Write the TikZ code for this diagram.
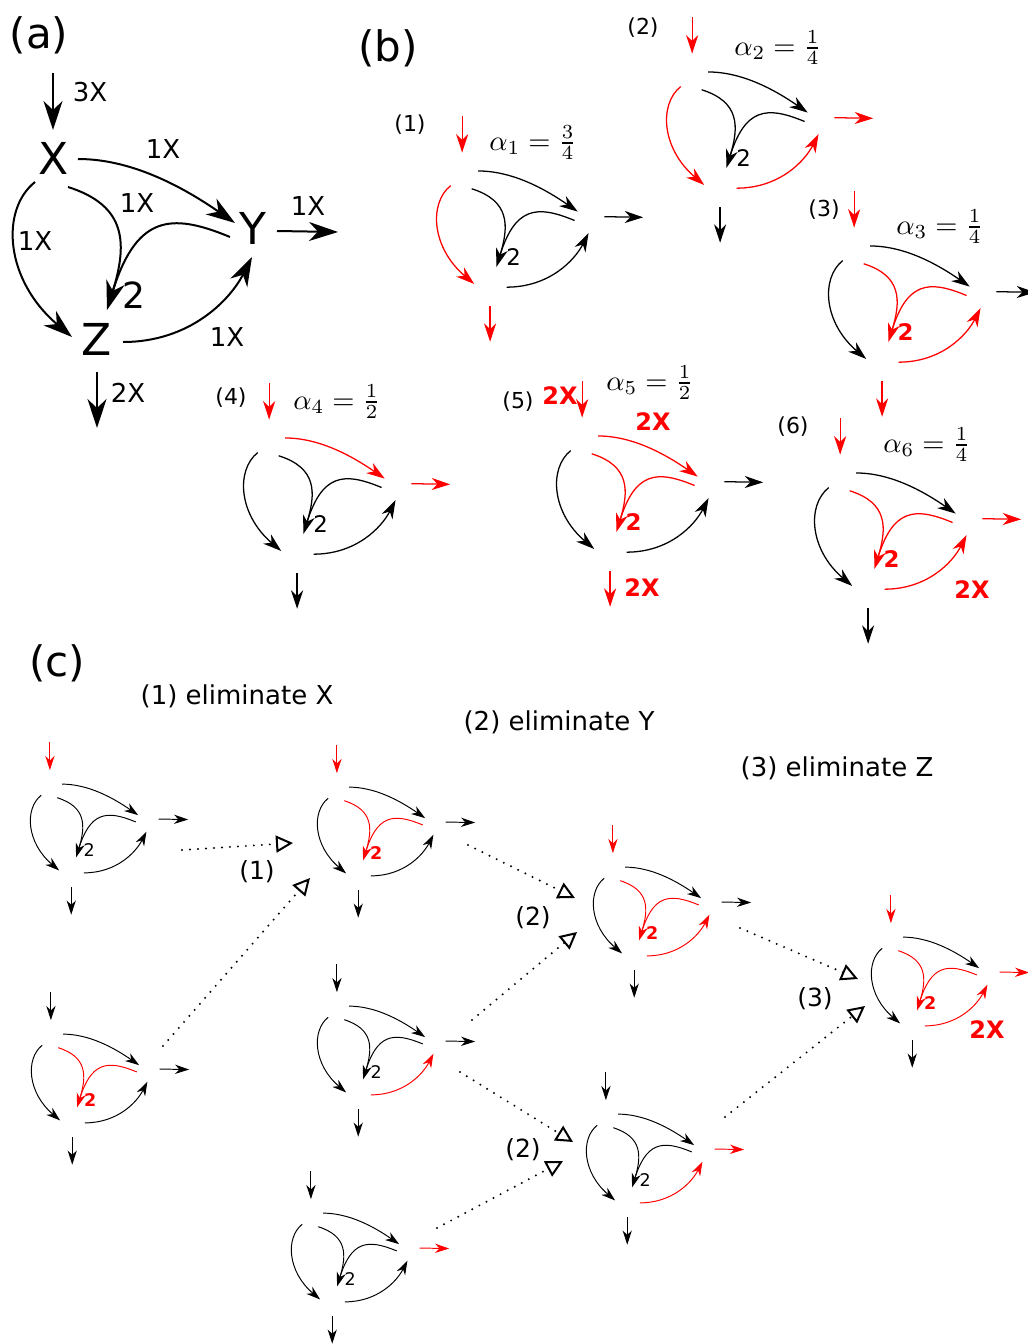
\documentclass[tikz,border=0pt]{standalone}
\usepackage{graphicx}
\usepackage[no-math]{fontspec}
\setmainfont{DejaVu Sans}
\usetikzlibrary{arrows.meta}
\tikzset{
 rin/.code={\def\cin{red}}, rxy/.code={\def\cxy{red}}, rxz/.code={\def\cxz{red}},
 rmg/.code={\def\cmg{red}\def\tw{\bfseries}}, rzy/.code={\def\czy{red}},
 ryo/.code={\def\cyo{red}}, rzo/.code={\def\czo{red}},
 panel/.style={inner sep=0pt,font=\fontsize{42}{42}\selectfont},
 letter/.style={inner sep=0pt,font=\fontsize{44}{44}\selectfont},
 flow/.style={inner sep=0pt,font=\fontsize{26}{26}\selectfont},
 sub/.style={inner sep=0pt,font=\fontsize{22}{22}\selectfont},
 alph/.style={inner sep=0pt},
 redlab/.style={inner sep=0pt,text=red,font=\fontsize{24}{24}\selectfont\bfseries},
 steplab/.style={inner sep=0pt,font=\fontsize{25}{25}\selectfont},
 title/.style={inner sep=0pt,font=\fontsize{26}{26}\selectfont},
 dotarrow/.style={line width=2.2pt, line cap=round, dash pattern=on 0pt off 8pt,
   -{Triangle[open,length=17pt,width=17pt,line width=2pt]}},
}
\newcommand\amath[1]{\scalebox{2.85}{$#1$}}
\newcommand\motif[4][]{%
\begin{scope}[shift={(#2,#3)},scale=#4]
\def\cin{black}\def\cxy{black}\def\cxz{black}\def\cmg{black}%
\def\czy{black}\def\cyo{black}\def\czo{black}\def\tw{\mdseries}%
\tikzset{#1}%
\pgfmathsetmacro\lw{2*#4}\pgfmathsetmacro\al{29*#4}%
\pgfmathsetmacro\aw{19*#4}\pgfmathsetmacro\ai{9*#4}\pgfmathsetmacro\tf{36*#4}%
\tikzset{arr/.style={line width=\lw pt,-{Stealth[length=\al pt,width=\aw pt,inset=\ai pt]}},
  ln/.style={line width=\lw pt}}%
\draw[arr,color=\cin] (53,73) -- (53,130);
\draw[arr,color=\cxy] (78,159) .. controls (130,159) and (180,185) .. (235,223);
\draw[arr,color=\cxz] (35,182) .. controls (0,210) and (5,280) .. (72,337);
\draw[ln,color=\cmg] (230,237) .. controls (170,212) and (135,215) .. (111,297);
\draw[arr,color=\cmg] (68,187) .. controls (128,206) and (127,245) .. (107,310);
\draw[arr,color=\czy] (123,342) .. controls (190,342) and (230,300) .. (252,257);
\draw[arr,color=\cyo] (277,231) -- (338,232);
\draw[arr,color=\czo] (97,372) -- (97,428);
\node[inner sep=0pt,text=\cmg,font=\fontsize{\tf}{\tf}\selectfont\tw] at (134,295) {2};
\end{scope}}
\begin{document}
\begin{tikzpicture}[x=1pt,y=-1pt]
\useasboundingbox (0,0) rectangle (1028,1344);
% ---------- (a)
\node[panel] (pa) at (39,35) {(a)};
\motif{0}{0}{1}
\node[letter] (X) at (54,158) {X};
\node[letter] (Y) at (253,228) {Y};
\node[letter] (Z) at (97,339) {Z};
\node[flow] (a3x) at (90,92) {3X};
\node[flow] (axy) at (163,149) {1X};
\node[flow] (axz) at (35,241) {1X};
\node[flow] (amg) at (137,203) {1X};
\node[flow] (ayo) at (308,206) {1X};
\node[flow] (azy) at (227,337) {1X};
\node[flow] (azo) at (128,393) {2X};
% ---------- (b)
\node[panel] (pb) at (388,48) {(b)};
\motif[rin,rxz,rzo]{428.5}{70}{0.635}
\motif[rin,rxz,rzy,ryo]{658.5}{-29}{0.635}
\motif[rin,rmg,rzy,rzo]{820.5}{145}{0.635}
\motif[rin,rxy,ryo]{235.5}{337}{0.635}
\motif[rin,rxy,rmg,rzo]{548.5}{335}{0.635}
\motif[rin,rmg,rzy,ryo]{806.5}{372}{0.635}
\node[sub] (b1) at (410,125) {(1)};
\node[sub] (b2) at (643,28) {(2)};
\node[sub] (b3) at (824,210) {(3)};
\node[sub] (b4) at (231,398) {(4)};
\node[sub] (b5) at (518,402) {(5)};
\node[sub] (b6) at (793,427) {(6)};
\node[alph] (al1) at (533,143) {\amath{\alpha_1=\frac{3}{4}}};
\node[alph] (al2) at (778,48) {\amath{\alpha_2=\frac{1}{4}}};
\node[alph] (al3) at (940,227) {\amath{\alpha_3=\frac{1}{4}}};
\node[alph] (al4) at (337,402) {\amath{\alpha_4=\frac{1}{2}}};
\node[alph] (al5) at (650,383) {\amath{\alpha_5=\frac{1}{2}}};
\node[alph] (al6) at (927,445) {\amath{\alpha_6=\frac{1}{4}}};
\node[redlab] (r5a) at (560,396) {2X};
\node[redlab] (r5b) at (653,422) {2X};
\node[redlab] (r5c) at (642,588) {2X};
\node[redlab] (r6) at (972,590) {2X};
% ---------- (c)
\node[panel] (pc) at (57,663) {(c)};
\node[title] (t1) at (237,696) {(1) eliminate X};
\node[title] (t2) at (559,722) {(2) eliminate Y};
\node[title] (t3) at (837,768) {(3) eliminate Z};
\motif[rin]{24.2}{707}{0.485}
\motif[rin,rmg]{311.2}{710}{0.485}
\motif[rin,rmg,rzy]{587.2}{790}{0.485}
\motif[rin,rmg,rzy,ryo]{865.2}{860}{0.485}
\motif[rmg]{25.2}{957}{0.485}
\motif[rzy]{311.2}{929}{0.485}
\motif[ryo]{285.2}{1136}{0.485}
\motif[rzy,ryo]{580.2}{1037}{0.485}
\node[redlab] (r7) at (987,1030) {2X};
\node[steplab] (s1) at (257,872) {(1)};
\node[steplab] (s2) at (533,918) {(2)};
\node[steplab] (s3) at (523,1150) {(2)};
\node[steplab] (s4) at (815,999) {(3)};
\coordinate (d1s) at (182,850); \coordinate (d1e) at (293,843);
\coordinate (d2s) at (163,1046); \coordinate (d2e) at (310,878);
\coordinate (d3s) at (468,845); \coordinate (d3e) at (575,898);
\coordinate (d4s) at (472,1020); \coordinate (d4e) at (577,932);
\coordinate (d5s) at (460,1072); \coordinate (d5e) at (573,1142);
\coordinate (d6s) at (437,1228); \coordinate (d6e) at (563,1161);
\coordinate (d7s) at (740,928); \coordinate (d7e) at (858,979);
\coordinate (d8s) at (725,1117); \coordinate (d8e) at (865,1006);
\draw[dotarrow] (d1s) -- (d1e);
\draw[dotarrow] (d2s) -- (d2e);
\draw[dotarrow] (d3s) -- (d3e);
\draw[dotarrow] (d4s) -- (d4e);
\draw[dotarrow] (d5s) -- (d5e);
\draw[dotarrow] (d6s) -- (d6e);
\draw[dotarrow] (d7s) -- (d7e);
\draw[dotarrow] (d8s) -- (d8e);
\end{tikzpicture}
\end{document}
